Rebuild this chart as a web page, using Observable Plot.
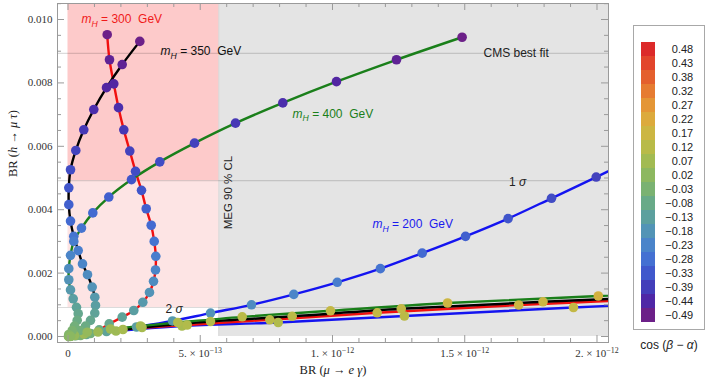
<!DOCTYPE html>
<html>
<head>
<meta charset="utf-8">
<script src="https://cdn.jsdelivr.net/npm/d3@7"></script>
<script src="https://cdn.jsdelivr.net/npm/@observablehq/plot@0.6"></script>
<style>
  html, body { margin: 0; padding: 0; background: #fff; }
  #wrap { position: relative; width: 706px; height: 387px; overflow: hidden; }
  #legendBox { position: absolute; left: 633px; top: 25px; width: 72px; height: 305px; box-sizing: border-box; border: 1px solid #a8a8a8; background: #fff; }
  #legendTitle { position: absolute; left: 630px; top: 337px; width: 78px; text-align: center; font-family: "Liberation Sans", Arial, sans-serif; font-size: 12px; color: #222; line-height: 16px; }
</style>
</head>
<body>
<div id="wrap">
  <div id="chart"></div>
  <div id="legendBox"></div>
  <div id="legendTitle">cos (<i>β</i> − <i>α</i>)</div>
</div>
<script>
// ---------------- data ----------------
// cos(beta - alpha) grid values for each plotted point
const cosGrid = [-0.49,-0.468,-0.446,-0.424,-0.402,-0.38,-0.358,-0.336,-0.314,-0.292,-0.27,-0.248,-0.226,-0.204,-0.182,-0.16,-0.138,-0.116,-0.094,-0.072,-0.05,-0.028,-0.006,0.016,0.038,0.06,0.082,0.104,0.126,0.148,0.17,0.192];

// m_H = 300 GeV (red)
const mH300_brMuEGamma = [1.482e-13,1.569e-13,1.732e-13,1.909e-13,2.110e-13,2.336e-13,2.552e-13,2.779e-13,2.957e-13,3.146e-13,3.259e-13,3.319e-13,3.308e-13,3.233e-13,3.081e-13,2.828e-13,2.488e-13,2.049e-13,1.558e-13,1.180e-13,0.851e-13,0.473e-13,0.095e-13,0.020e-13,0.095e-13,0.605e-13,2.079e-13,4.507e-13,7.629e-13,11.69e-13,17.04e-13,23.53e-13];
const mH300_brHMuTau = [0.00952,0.00873,0.00797,0.00722,0.00652,0.00585,0.00521,0.00461,0.00403,0.00351,0.00300,0.00253,0.00210,0.00174,0.00139,0.00108,0.00082,0.00061,0.00040,0.00021,0.000095,0.000032,0.000001,0.000002,0.000016,0.000079,0.000221,0.000363,0.000527,0.000748,0.000994,0.00123];
const mH300_cos = cosGrid;

// m_H = 350 GeV (black)
const mH350_brMuEGamma = [2.715e-13,2.049e-13,1.456e-13,0.975e-13,0.597e-13,0.295e-13,0.095e-13,0.030e-13,0.030e-13,0.095e-13,0.219e-13,0.386e-13,0.548e-13,0.737e-13,0.915e-13,1.013e-13,1.040e-13,1.013e-13,0.851e-13,0.662e-13,0.435e-13,0.208e-13,0.057e-13,0.057e-13,0.246e-13,1.134e-13,2.798e-13,5.388e-13,8.476e-13,12.60e-13,17.96e-13,24.37e-13];
const mH350_brHMuTau = [0.00931,0.00858,0.00785,0.00716,0.00652,0.00587,0.00526,0.00469,0.00416,0.00364,0.00316,0.00271,0.00229,0.00195,0.00156,0.00124,0.00098,0.00074,0.00051,0.00033,0.00019,0.000095,0.000016,0.000006,0.000032,0.000142,0.000284,0.000473,0.000637,0.000874,0.001095,0.001325];
const mH350_cos = cosGrid;

// m_H = 400 GeV (green)
const mH400_brMuEGamma = [14.90e-13,12.42e-13,10.15e-13,8.121e-13,6.333e-13,4.783e-13,3.471e-13,2.401e-13,1.543e-13,0.938e-13,0.510e-13,0.219e-13,0.095e-13,0.030e-13,0.030e-13,0.095e-13,0.197e-13,0.321e-13,0.386e-13,0.348e-13,0.246e-13,0.159e-13,0.030e-13,0.095e-13,0.726e-13,1.607e-13,2.741e-13,4.151e-13,6.586e-13,9.924e-13,14.35e-13,20.05e-13,26.94e-13];
const mH400_brHMuTau = [0.00944,0.00873,0.00804,0.00737,0.00673,0.00610,0.00551,0.00495,0.00440,0.00390,0.00342,0.00300,0.00256,0.00214,0.00179,0.00147,0.00119,0.00092,0.00072,0.00051,0.00033,0.00019,0.000063,0.0000095,0.000136,0.000237,0.000331,0.000442,0.000621,0.000811,0.001057,0.001278,0.001514];
const mH400_cos = [-0.49,-0.468,-0.446,-0.424,-0.402,-0.38,-0.358,-0.336,-0.314,-0.292,-0.27,-0.248,-0.226,-0.204,-0.182,-0.16,-0.138,-0.116,-0.094,-0.072,-0.05,-0.028,-0.006,0.016,0.038,0.06,0.082,0.104,0.126,0.148,0.17,0.192,0.214];

// m_H = 200 GeV (blue)
const mH200_brMuEGamma = [21.61e-13,19.97e-13,18.28e-13,16.64e-13,15.03e-13,13.39e-13,11.81e-13,10.18e-13,8.537e-13,6.938e-13,5.388e-13,3.951e-13,2.590e-13,1.456e-13,0.699e-13,0.284e-13,0.095e-13,0.038e-13,0.019e-13,0.378e-13,1.815e-13,4.310e-13,7.947e-13,12.72e-13,19.11e-13,26.56e-13];
const mH200_brHMuTau = [0.00568,0.00503,0.00436,0.00372,0.00316,0.00263,0.00214,0.00171,0.00133,0.00100,0.00074,0.00049,0.00030,0.000158,0.000063,0.000022,0.0000063,0.000001,0.000001,0.000047,0.000174,0.000331,0.000442,0.000647,0.000915,0.001199];
const mH200_cos = [-0.402,-0.38,-0.358,-0.336,-0.314,-0.292,-0.27,-0.248,-0.226,-0.204,-0.182,-0.16,-0.138,-0.116,-0.094,-0.072,-0.05,-0.028,0.016,0.038,0.06,0.082,0.104,0.126,0.148,0.17];

// experimental limits / bands
const megLimit = 5.7e-13;       // MEG 90% CL on BR(mu -> e gamma)
const cmsBestFit = 0.00893;     // CMS best fit BR(h -> mu tau)
const sigma1Low = 0.00492;      // lower edge of 1 sigma band
const sigma2Low = 0.000915;     // lower edge of 2 sigma band

// legend (color bar) values and colours
const legendValues = [0.48,0.43,0.38,0.32,0.27,0.22,0.17,0.12,0.07,0.02,-0.03,-0.08,-0.13,-0.18,-0.23,-0.28,-0.33,-0.39,-0.44,-0.49];
const legendColors = ["#dc2a2a","#e2452c","#e4602e","#e67c32","#e49636","#dcaa3c","#ccb642","#b8bb48","#a2bb52","#8db860","#7ab272","#68aa88","#5ca09e","#5294b6","#4a84ca","#4470d2","#4058cc","#433eba","#4f27a6","#6c2088"];

// axis ticks
const xMajorTicks = [0, 5e-13, 1e-12, 1.5e-12, 2e-12];
const xMinorTicks = [1e-13,2e-13,3e-13,4e-13,6e-13,7e-13,8e-13,9e-13,1.1e-12,1.2e-12,1.3e-12,1.4e-12,1.6e-12,1.7e-12,1.8e-12,1.9e-12];
const yMajorTicks = [0, 0.002, 0.004, 0.006, 0.008, 0.010];
const yMinorTicks = [0.0005,0.001,0.0015,0.0025,0.003,0.0035,0.0045,0.005,0.0055,0.0065,0.007,0.0075,0.0085,0.009,0.0095,0.0105];

// text annotations
const annotations = [
  {x: 0.51e-13, y: 0.01000, text: "mH = 300\u00a0 GeV", color: "#f01a1a"},
  {x: 3.50e-13, y: 0.00899, text: "mH = 350\u00a0 GeV", color: "#111111"},
  {x: 8.49e-13, y: 0.00702, text: "mH = 400\u00a0 GeV", color: "#1a7f1a"},
  {x: 11.51e-13, y: 0.00353, text: "mH = 200\u00a0 GeV", color: "#1a1aee"},
  {x: 15.71e-13, y: 0.00893, text: "CMS best fit", color: "#222222"},
  {x: 16.67e-13, y: 0.00487, text: "1 σ", color: "#222222"},
  {x: 3.69e-13, y: 0.000874, text: "2 σ", color: "#222222"}
];
const megLabel = [{x: 6.05e-13, y: 0.00454, text: "MEG 90 % CL"}];
const xLabel = "BR (μ → e γ)";
const yLabel = "BR (h → μ τ)";

// ---------------- layout ----------------
const W = 706, H = 387;
const mL = 57, mR = 98, mT = 3, mB = 45;
const innerW = W - mL - mR, innerH = H - mT - mB;
const xDomain = [-0.397e-13, 20.435e-13];
const yDomain = [-0.000189, 0.010505];
const SERIF = "Liberation Serif, Times New Roman, serif";
const SANS = "Liberation Sans, Arial, sans-serif";

const colorOpts = {
  type: "linear",
  domain: legendValues.slice().reverse(),
  range: legendColors.slice().reverse(),
  clamp: true
};

const series = [
  {name: "200", stroke: "#1414f0", x: mH200_brMuEGamma, y: mH200_brHMuTau, c: mH200_cos},
  {name: "300", stroke: "#f01010", x: mH300_brMuEGamma, y: mH300_brHMuTau, c: mH300_cos},
  {name: "350", stroke: "#000000", x: mH350_brMuEGamma, y: mH350_brHMuTau, c: mH350_cos},
  {name: "400", stroke: "#1a7f1a", x: mH400_brMuEGamma, y: mH400_brHMuTau, c: mH400_cos}
];
const rows = series.map(s => s.x.map((x, i) => ({curve: s.name, x, y: s.y[i], c: s.c[i]})));

function fmtX(d) {
  if (d === 0) return "0";
  const e = Math.floor(Math.log10(d) + 1e-9);
  const m = +(d / Math.pow(10, e)).toFixed(3);
  const ms = Number.isInteger(m) ? m + "." : String(m);
  return ms + " × 10^−" + (-e);
}

const chart = Plot.plot({
  width: W, height: H,
  marginLeft: mL, marginRight: mR, marginTop: mT, marginBottom: mB,
  x: {domain: xDomain},
  y: {domain: yDomain},
  color: colorOpts,
  style: {background: "transparent", fontFamily: SANS, fontSize: "12px", overflow: "visible"},
  marks: [
    // regions
    Plot.rect([{x1: megLimit, x2: xDomain[1], y1: 0, y2: yDomain[1]}], {x1: "x1", x2: "x2", y1: "y1", y2: "y2", fill: "#e4e4e4"}),
    Plot.rect([{x1: 0, x2: megLimit, y1: sigma1Low, y2: yDomain[1]}], {x1: "x1", x2: "x2", y1: "y1", y2: "y2", fill: "#fdcaca"}),
    Plot.rect([{x1: 0, x2: megLimit, y1: sigma2Low, y2: sigma1Low}], {x1: "x1", x2: "x2", y1: "y1", y2: "y2", fill: "#fde4e4"}),
    Plot.ruleY([cmsBestFit, sigma1Low, sigma2Low], {stroke: "#000", strokeOpacity: 0.14, strokeWidth: 1.2}),
    Plot.ruleX([megLimit], {y1: 0, y2: yDomain[1], stroke: "#000", strokeOpacity: 0.07}),
    // curves
    ...series.map((s, k) => Plot.line(rows[k], {x: "x", y: "y", stroke: s.stroke, strokeWidth: 2.4, curve: "catmull-rom", clip: true})),
    ...rows.map(r => Plot.dot(r, {x: "x", y: "y", fill: "c", r: 4.8, clip: true})),
    // annotations
    ...annotations.map(a => Plot.text([a], {x: "x", y: "y", text: "text", fill: a.color, textAnchor: "start", fontSize: 12, fontFamily: SANS})),
    Plot.text(megLabel, {x: "x", y: "y", text: "text", rotate: -90, textAnchor: "middle", fontSize: 11.5, fontFamily: SANS, fill: "#222"}),
    // frame + ticks (inside, Mathematica style)
    Plot.frame({stroke: "#9a9a9a"}),
    Plot.tickX(xMajorTicks, {x: d => d, stroke: "#9a9a9a", insetTop: innerH - 7}),
    Plot.tickX(xMajorTicks, {x: d => d, stroke: "#9a9a9a", insetBottom: innerH - 7}),
    Plot.tickX(xMinorTicks, {x: d => d, stroke: "#9a9a9a", insetTop: innerH - 4}),
    Plot.tickX(xMinorTicks, {x: d => d, stroke: "#9a9a9a", insetBottom: innerH - 4}),
    Plot.tickY(yMajorTicks, {y: d => d, stroke: "#9a9a9a", insetRight: innerW - 7}),
    Plot.tickY(yMajorTicks, {y: d => d, stroke: "#9a9a9a", insetLeft: innerW - 7}),
    Plot.tickY(yMinorTicks, {y: d => d, stroke: "#9a9a9a", insetRight: innerW - 4}),
    Plot.tickY(yMinorTicks, {y: d => d, stroke: "#9a9a9a", insetLeft: innerW - 4}),
    Plot.axisX({ticks: xMajorTicks, tickFormat: fmtX, tickSize: 0, tickPadding: 7, fontFamily: SERIF, fontSize: 11, color: "#333", label: null}),
    Plot.axisY({ticks: yMajorTicks, tickFormat: d3.format(".3f"), tickSize: 0, tickPadding: 5, fontFamily: SERIF, fontSize: 11, color: "#333", label: null}),
    // axis titles
    Plot.text([xLabel], {frameAnchor: "bottom", dy: 31, fontFamily: SERIF, fontSize: 12.5, fill: "#222"}),
    Plot.text([yLabel], {frameAnchor: "left", dx: -45, dy: 4, rotate: -90, fontFamily: SERIF, fontSize: 12.5, fill: "#222"})
  ]
});
document.getElementById("chart").appendChild(chart);

// legend (colour bar) drawn with Plot
const legendRows = legendValues.map(v => ({value: v, label: d3.format(".2f")(v)}));
const legend = Plot.plot({
  width: 70, height: 303,
  marginLeft: 7, marginRight: 0, marginTop: 14.7, marginBottom: 6.3,
  x: {domain: [0, 63], axis: null},
  y: {type: "band", domain: legendRows.map(d => d.label), axis: null, padding: 0},
  color: colorOpts,
  style: {background: "transparent", fontFamily: SANS, fontSize: "11px"},
  marks: [
    Plot.barX(legendRows, {x1: 0, x2: 14, y: "label", fill: "value"}),
    Plot.text(legendRows, {x: 51.7, y: "label", text: "label", textAnchor: "end", fontSize: 11, fontFamily: SANS, fill: "#222"})
  ]
});
document.getElementById("legendBox").appendChild(legend);

// ---------------- rich text (italic / sub / superscripts) ----------------
const richMap = {
  "1 σ": [["1 ", ""], ["σ", "i"]],
  "2 σ": [["2 ", ""], ["σ", "i"]],
  [xLabel]: [["BR (", ""], ["μ", "i"], [" → ", ""], ["e γ", "i"], [")", ""]],
  [yLabel]: [["BR (", ""], ["h", "i"], [" → ", ""], ["μ τ", "i"], [")", ""]]
};
for (const a of annotations) {
  if (a.text.startsWith("mH")) richMap[a.text] = [["m", "i"], ["H", "is"], [a.text.slice(2), ""]];
}
const NS = "http://www.w3.org/2000/svg";
function applyRich(root) {
  root.querySelectorAll("text").forEach(t => {
    let segs = richMap[t.textContent];
    if (!segs && t.textContent.includes("^")) {
      const [b, p] = t.textContent.split("^");
      segs = [[b, ""], [p, "p"]];
    }
    if (!segs) return;
    t.textContent = "";
    let shift = 0;
    for (const [str, f] of segs) {
      const ts = document.createElementNS(NS, "tspan");
      ts.textContent = str;
      if (f.includes("i")) ts.setAttribute("font-style", "italic");
      const target = f.includes("s") ? 3.5 : f.includes("p") ? -4.5 : 0;
      if (target !== shift) { ts.setAttribute("dy", target - shift); shift = target; }
      if (f.includes("s") || f.includes("p")) ts.setAttribute("font-size", "0.72em");
      t.appendChild(ts);
    }
  });
}
applyRich(chart);
</script>
</body>
</html>
